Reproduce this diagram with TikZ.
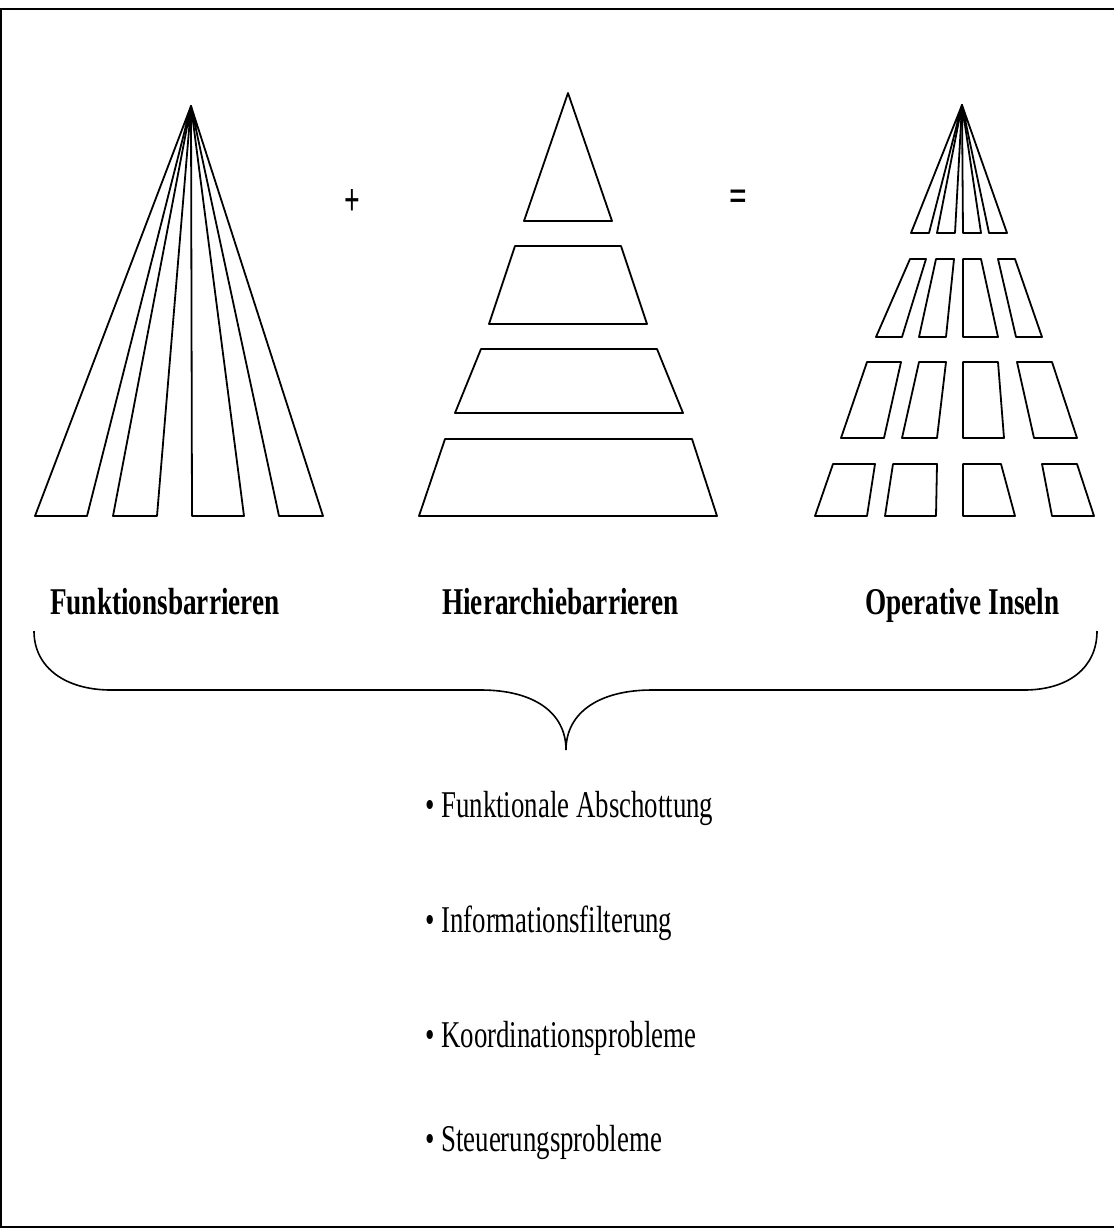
\documentclass[tikz,border=0pt]{standalone}
\usepackage{fontspec}
\setmainfont{Liberation Serif}
\begin{document}
\begin{tikzpicture}[x=1pt,y=-1pt,
  ln/.style={line width=1.8pt, line join=round},
  frameline/.style={line width=2pt},
  brace/.style={line width=1.6pt},
  head/.style={inner sep=0pt, anchor=base west, font=\fontsize{37.8}{40}\selectfont\bfseries},
  item/.style={inner sep=0pt, anchor=base west, font=\fontsize{37.8}{40}\selectfont},
  sign/.style={inner sep=0pt, font=\fontsize{46}{48}\selectfont\bfseries}]
\useasboundingbox (0,0) rectangle (1114,1229);

% frame
\draw[frameline] (0,9) -- (1114,9);
\draw[frameline] (1,9) -- (1,1227);
\draw[frameline] (0,1227) -- (1114,1227);

% functional barriers: strips fanning out from one apex
\coordinate (fa) at (191,106);
\foreach \a/\b in {35/87, 113/157, 192/244, 279/323}
  \draw[ln] (fa) -- (\a,516) -- (\b,516) -- cycle;

% hierarchy barriers: stacked layers
\draw[ln] (568,93) -- (524,221) -- (612,221) -- cycle;
\draw[ln] (515,246) -- (621,246) -- (647,324) -- (489,324) -- cycle;
\draw[ln] (481,349) -- (657,349) -- (683,413) -- (455,413) -- cycle;
\draw[ln] (445,439) -- (692,439) -- (717,516) -- (419,516) -- cycle;

% operative islands: strips cut into layers
\coordinate (oa) at (962,105);
\foreach \a/\b in {911/929, 937/955, 963/981, 989/1007}
  \draw[ln] (oa) -- (\a,233) -- (\b,233) -- cycle;
\foreach \p/\q/\r/\s in {910/926/902/876, 936/954/946/919, 963/981/998/963, 998/1015/1042/1016}
  \draw[ln] (\p,259) -- (\q,259) -- (\r,337) -- (\s,337) -- cycle;
\foreach \p/\q/\r/\s in {867/901/884/841, 919/946/937/902, 963/998/1004/963, 1017/1052/1077/1034}
  \draw[ln] (\p,362) -- (\q,362) -- (\r,438) -- (\s,438) -- cycle;
\foreach \p/\q/\r/\s in {833/875/867/815, 893/937/936/885, 963/1001/1015/963, 1042/1077/1094/1052}
  \draw[ln] (\p,464) -- (\q,464) -- (\r,516) -- (\s,516) -- cycle;

% operators
\node[sign] (plus) at (352,203) {\scalebox{0.6}[1]{+}};
\node[sign] (eq) at (738,201) {\scalebox{0.68}[1]{=}};

% headings
\node[head] (fb) at (50,614) {\scalebox{0.72}[1]{Funktionsbarrieren}};
\node[head] (hb) at (442,614) {\scalebox{0.72}[1]{Hierarchiebarrieren}};
\node[head] (oi) at (865,614) {\scalebox{0.72}[1]{Operative Inseln}};

% curly brace gathering the three
\coordinate (bl) at (34,631);
\coordinate (br) at (1097,631);
\coordinate (tip) at (566,750);
\draw[brace] (bl) .. controls (34,668) and (66,690) .. (111,690)
  -- (481,690) .. controls (533,690) and (566,712) .. (tip)
  .. controls (566,712) and (600,690) .. (652,690)
  -- (1024,690) .. controls (1068,690) and (1097,668) .. (br);

% consequences
\node[item] (i1) at (425,817) {\scalebox{0.71}[1]{\textbullet\ Funktionale Abschottung}};
\node[item] (i2) at (425,932) {\scalebox{0.71}[1]{\textbullet\ Informationsfilterung}};
\node[item] (i3) at (425,1047) {\scalebox{0.71}[1]{\textbullet\ Koordinationsprobleme}};
\node[item] (i4) at (425,1151) {\scalebox{0.71}[1]{\textbullet\ Steuerungsprobleme}};
\end{tikzpicture}
\end{document}
